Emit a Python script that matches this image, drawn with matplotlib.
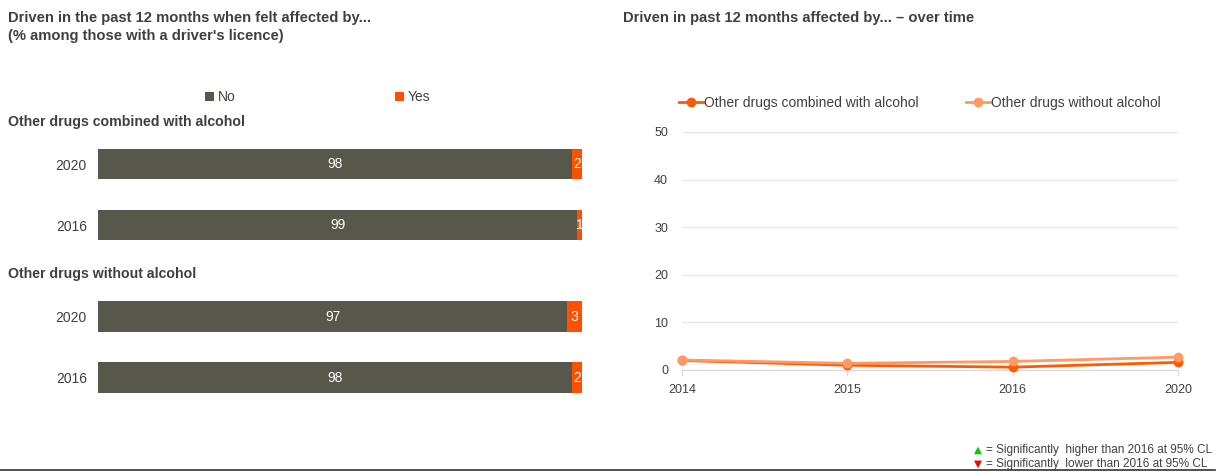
import matplotlib.pyplot as plt
import numpy as np

plt.rcParams['font.family'] = ['Liberation Sans', 'DejaVu Sans']

# bar data
groups = ['Other drugs combined with alcohol', 'Other drugs without alcohol']
bar_years = ['2020', '2016', '2020', '2016']
no_vals = [98, 99, 97, 98]
yes_vals = [2, 1, 3, 2]

# line data
line_years = ['2014', '2015', '2016', '2020']
combined = [2.0, 1.0, 0.6, 1.6]
without = [2.1, 1.4, 1.8, 2.7]

W, H = 1221, 472
fig = plt.figure(figsize=(W / 100, H / 100), dpi=100)

def fx(px):
    return px / W

def fy(py):
    return 1 - py / H

col_no = '#58574B'
col_yes = '#FF5000'
txt = '#404040'

# titles
fig.text(fx(8), fy(18), 'Driven in the past 12 months when felt affected by...', fontsize=10.6,
         weight='bold', color=txt, va='center')
fig.text(fx(8), fy(36), "(% among those with a driver's licence)", fontsize=10.6,
         weight='bold', color=txt, va='center')
fig.text(fx(623), fy(18), 'Driven in past 12 months affected by... \u2013 over time', fontsize=10.6,
         weight='bold', color=txt, va='center')

# ---- left: stacked bars ----
pos = np.array([0, 1, 2.5, 3.5])
unit = 61.0
top_px, bot_px = 140, 410
ax = fig.add_axes([fx(98), fy(bot_px), fx(582) - fx(98), (bot_px - top_px) / H])
ax.barh(pos, no_vals, height=0.5, color=col_no, label='No')
ax.barh(pos, yes_vals, left=no_vals, height=0.5, color=col_yes, label='Yes')
ax.set_xlim(0, 100)
ax.set_ylim((bot_px - 164) / unit, (top_px - 164) / unit)
ax.set_yticks(pos)
ax.set_yticklabels(bar_years, fontsize=10, color=txt)
ax.tick_params(length=0, pad=8)
ax.set_xticks([])
for s in ax.spines.values():
    s.set_visible(False)
for p, n, y in zip(pos, no_vals, yes_vals):
    ax.text(n / 2, p, str(n), color='white', ha='center', va='center', fontsize=10)
    ax.text(n + y / 2, p, str(y), color='white', ha='center', va='center', fontsize=10)

fig.text(fx(8), fy(122), groups[0], fontsize=10.2, weight='bold', color=txt, va='center')
fig.text(fx(8), fy(274), groups[1], fontsize=10.2, weight='bold', color=txt, va='center')

ax.legend(loc='center', bbox_to_anchor=(fx(318), fy(97)), bbox_transform=fig.transFigure,
          ncol=2, frameon=False, fontsize=10, handlelength=0.6, handleheight=0.6,
          handletextpad=0.3, columnspacing=11.5, labelcolor=txt)

# ---- right: lines ----
ax2 = fig.add_axes([fx(682), fy(370), fx(1178) - fx(682), (370 - 132) / H])
x = np.arange(len(line_years))
ax2.plot(x, combined, color='#FF5A00', lw=2, marker='o', ms=6, clip_on=False,
         label='Other drugs combined with alcohol', zorder=3)
ax2.plot(x, without, color='#FF9966', lw=2, marker='o', ms=6, clip_on=False,
         label='Other drugs without alcohol', zorder=4)
ax2.set_xlim(0, 3)
ax2.set_ylim(0, 50)
ax2.set_yticks([0, 10, 20, 30, 40, 50])
ax2.set_xticks(x)
ax2.set_xticklabels(line_years)
ax2.grid(axis='y', color='#E6E6E6', lw=1)
ax2.set_axisbelow(True)
for s in ['top', 'right', 'left']:
    ax2.spines[s].set_visible(False)
ax2.spines['bottom'].set_color('#D9D9D9')
ax2.tick_params(axis='y', length=0, labelsize=9, labelcolor=txt, pad=10)
ax2.tick_params(axis='x', length=4, color='#D9D9D9', labelsize=9, labelcolor=txt, pad=6)
ax2.legend(loc='center', bbox_to_anchor=(fx(920), fy(103)), bbox_transform=fig.transFigure,
           ncol=2, frameon=False, fontsize=10, handlelength=1.7, handletextpad=0.1,
           columnspacing=3.4, labelcolor=txt)

# footnote
fig.text(fx(978), fy(450), '\u25B2', color='#00CC00', fontsize=7.5, va='center', ha='center',
         family='DejaVu Sans')
fig.text(fx(978), fy(464), '\u25BC', color='#FF0000', fontsize=7.5, va='center', ha='center',
         family='DejaVu Sans')
fig.text(fx(986), fy(450), '= Significantly  higher than 2016 at 95% CL', fontsize=8.5,
         color=txt, va='center')
fig.text(fx(986), fy(464), '= Significantly  lower than 2016 at 95% CL', fontsize=8.5,
         color=txt, va='center')
fig.add_artist(plt.Line2D([fx(0), fx(1215)], [fy(470), fy(470)], color='#333333', lw=1.2))

fig.savefig('out.png', dpi=100)
